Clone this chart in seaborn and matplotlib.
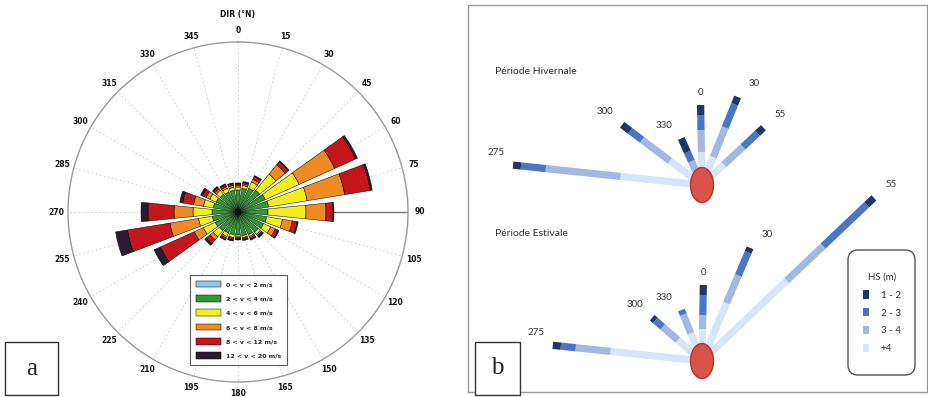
import numpy as np
import matplotlib
matplotlib.use("Agg")
import matplotlib.pyplot as plt
import seaborn as sns
from matplotlib.patches import Patch, Ellipse, Rectangle, FancyBboxPatch

# ---------------- (a) wind rose data ----------------
directions = [0, 15, 30, 45, 60, 75, 90, 105, 120, 135, 150, 165,
              180, 195, 210, 225, 240, 255, 270, 285, 300, 315, 330, 345]
speed_labels = ["0 < v < 2 m/s", "2 < v < 4 m/s", "4 < v < 6 m/s",
                "6 < v < 8 m/s", "8 < v < 12 m/s", "12 < v < 20 m/s"]
v0_2 = [0.3, 0.3, 0.3, 0.3, 0.3, 0.3, 0.3, 0.3, 0.3, 0.3, 0.3, 0.3,
        0.3, 0.3, 0.3, 0.3, 0.3, 0.3, 0.3, 0.3, 0.3, 0.3, 0.3, 0.3]
v2_4 = [1.9, 2.1, 2.3, 2.5, 2.7, 2.8, 2.7, 2.6, 2.5, 2.3, 2.2, 2.1,
        2.0, 2.0, 2.0, 2.1, 2.2, 2.3, 2.3, 2.2, 2.1, 2.0, 1.9, 1.9]
v4_6 = [0.3, 0.3, 0.7, 2.1, 3.7, 3.9, 3.8, 1.6, 0.8, 0.3, 0.2, 0.2,
        0.2, 0.3, 0.4, 0.8, 1.3, 1.4, 1.9, 1.0, 0.7, 0.5, 0.4, 0.3]
v6_8 = [0.15, 0.15, 0.3, 1.2, 3.9, 3.8, 2.0, 1.0, 0.5, 0.15, 0.15, 0.1,
        0.1, 0.1, 0.15, 0.4, 1.0, 2.9, 1.9, 1.0, 0.4, 0.2, 0.2, 0.2]
v8_12 = [0.15, 0.15, 0.3, 0.4, 2.3, 2.6, 0.7, 0.5, 0.3, 0.15, 0.15, 0.1,
         0.1, 0.15, 0.15, 0.5, 3.7, 4.3, 2.6, 1.1, 0.4, 0.2, 0.2, 0.15]
v12_20 = [0.1, 0.1, 0.1, 0.1, 0.2, 0.2, 0.1, 0.1, 0.1, 0.1, 0.1, 0.1,
          0.1, 0.1, 0.1, 0.2, 0.7, 1.2, 0.7, 0.3, 0.2, 0.1, 0.1, 0.1]
speed_colors = ["#8cc8ea", "#2f9a34", "#f4ef1a", "#f08a22", "#c4161c", "#2b1b30"]
r_max = 17.0

# ---------------- (b) wave rose data ----------------
hs_labels = ["1 - 2", "2 - 3", "3 - 4", "+4"]
hs_colors = ["#1f3766", "#4a77c4", "#a3b8e0", "#d8e5f4"]

hiv_labels = ["275", "300", "330", "0", "30", "55"]
hiv_angles = [276, 307, 336, 359, 22, 47]
hiv_1_2 = [8, 10, 15, 10, 8, 8]
hiv_2_3 = [25, 15, 10, 15, 25, 20]
hiv_3_4 = [75, 35, 11, 22, 32, 26]
hiv_4p = [82, 40, 15, 33, 30, 30]

est_labels = ["275", "300", "330", "0", "30", "55"]
est_angles = [276, 311, 338, 1, 23, 46.5]
est_1_2 = [8, 4, 0, 10, 5, 10]
est_2_3 = [15, 10, 5, 20, 25, 60]
est_3_4 = [35, 20, 20, 14, 30, 50]
est_4p = [92, 32, 30, 32, 63, 117]

# ---------------- figure ----------------
sns.set_style("white")
plt.rcParams["font.family"] = ["DejaVu Sans"]

W, H = 929, 397
fig = plt.figure(figsize=(W / 100, H / 100), dpi=100)
fig.patch.set_facecolor("white")

# ---- polar wind rose ----
cx, cy, R = 238, 212, 170
ax = fig.add_axes([(cx - R) / W, (H - cy - R) / H, 2 * R / W, 2 * R / H],
                  projection="polar")
ax.set_theta_zero_location("N")
ax.set_theta_direction(-1)
theta = np.deg2rad(directions)
series = [v0_2, v2_4, v4_6, v6_8, v8_12, v12_20]
pal = sns.color_palette(speed_colors)
bottom = np.zeros(len(directions))
ax.plot([np.pi / 2, np.pi / 2], [0, r_max], color="#777777", lw=1.0, zorder=2)
for vals, col, lab in zip(series, pal, speed_labels):
    vals = np.asarray(vals, dtype=float)
    ax.bar(theta, vals, width=np.deg2rad(11.5), bottom=bottom, color=col,
           edgecolor="black", linewidth=0.35, label=lab, zorder=3)
    bottom += vals
ax.set_ylim(0, r_max)
ax.set_yticks([])
ax.set_xticks(theta)
ax.set_xticklabels([str(d) for d in directions])
ax.xaxis.grid(True, linestyle=(0, (2, 3)), color="#c8c8c8", linewidth=0.6)
ax.tick_params(axis="x", bottom=True, top=False, direction="in", length=6,
               color="#aaaaaa", pad=1.5, labelsize=5.5, labelcolor="#111111")
for t in ax.get_xticklabels():
    t.set_fontweight("bold")
ax.spines["polar"].set_color("#9a9a9a")
ax.spines["polar"].set_linewidth(1.0)
fig.text(cx / W, 1 - 14 / H, "DIR (°N)", ha="center", va="center",
         fontsize=5.5, fontweight="bold", color="#111111")

leg = ax.legend(loc="upper left", bbox_to_anchor=(190 / W, 1 - 275 / H),
                bbox_transform=fig.transFigure, fontsize=4.5, handlelength=4.0,
                handleheight=1.3, labelspacing=1.2, handletextpad=0.8,
                borderpad=0.9, borderaxespad=0, fancybox=False, frameon=True)
leg.get_frame().set_edgecolor("#333333")
leg.get_frame().set_linewidth(0.8)
for t in leg.get_texts():
    t.set_fontweight("bold")

# ---- wave rose panel ----
ax2 = fig.add_axes([468 / W, 5 / H, 459 / W, 387 / H])
ax2.set_xlim(468, 927)
ax2.set_ylim(392, 5)
ax2.set_xticks([])
ax2.set_yticks([])
for sp in ax2.spines.values():
    sp.set_color("#9a9a9a")
    sp.set_linewidth(1.0)

hs_pal = sns.color_palette(hs_colors)


def draw_rays(axis, origin, angles, labels, c12, c23, c34, c4p):
    ox, oy = origin
    for i, (ang, lab) in enumerate(zip(angles, labels)):
        a = np.deg2rad(ang)
        ux, uy = np.sin(a), -np.cos(a)
        seg = [c4p[i], c34[i], c23[i], c12[i]]
        cols = [hs_pal[3], hs_pal[2], hs_pal[1], hs_pal[0]]
        start = 0.0
        for length, col in zip(seg, cols):
            if length > 0:
                end = start + length
                axis.plot([ox + ux * start, ox + ux * end],
                          [oy + uy * start, oy + uy * end],
                          color=col, lw=5.2, solid_capstyle="butt", zorder=3)
                start = end
        sx = np.sign(np.round(ux, 1)) * 17
        axis.text(ox + ux * start + sx, oy + uy * start - 13, lab,
                  ha="center", va="center", fontsize=7, family="Lato",
                  color="#333333", zorder=6)
    axis.add_patch(Ellipse((ox, oy), 23, 35, facecolor="#d9534a",
                           edgecolor="#b8322b", lw=1.0, zorder=5))


draw_rays(ax2, (702, 185), hiv_angles, hiv_labels, hiv_1_2, hiv_2_3, hiv_3_4, hiv_4p)
draw_rays(ax2, (702, 361), est_angles, est_labels, est_1_2, est_2_3, est_3_4, est_4p)

ax2.text(495, 72, "Période Hivernale", ha="left", va="center", fontsize=7.5,
         family="Lato", color="#333333")
ax2.text(495, 233, "Période Estivale", ha="left", va="center", fontsize=7.5,
         family="Lato", color="#333333")

# legend frame (rounded) and legend content
ax2.add_patch(FancyBboxPatch((848, 250), 67, 125,
                             boxstyle="round,pad=0,rounding_size=10",
                             facecolor="white", edgecolor="#555555", lw=1.0,
                             zorder=4))
handles = [Patch(facecolor=c, edgecolor="none") for c in hs_pal]
leg2 = ax2.legend(handles, hs_labels, title="HS (m)", loc="upper center",
                  bbox_to_anchor=(882, 273), bbox_transform=ax2.transData,
                  fontsize=7, title_fontsize=7, handlelength=0.6,
                  handleheight=0.95, labelspacing=0.85, handletextpad=1.2,
                  borderpad=0, borderaxespad=0, frameon=False)
leg2.set_zorder(7)
for t in leg2.get_texts():
    t.set_family("Lato")
    t.set_color("#333333")
leg2.get_title().set_family("Lato")
leg2.get_title().set_color("#333333")

# ---- panel letters ----
ov = fig.add_axes([0, 0, 1, 1], zorder=10)
ov.set_xlim(0, W)
ov.set_ylim(H, 0)
ov.axis("off")
ov.patch.set_alpha(0)
ov.add_patch(Rectangle((5, 342), 53, 53, facecolor="white", edgecolor="#333333", lw=1.0))
ov.text(31.5, 369, "a", ha="center", va="center", fontsize=18,
        family="Liberation Serif", color="#222222")
ov.add_patch(Rectangle((475, 342), 45, 53, facecolor="white", edgecolor="#333333", lw=1.0))
ov.text(497.5, 368, "b", ha="center", va="center", fontsize=18,
        family="Liberation Serif", color="#222222")

fig.savefig("out.png", dpi=100, facecolor="white")
